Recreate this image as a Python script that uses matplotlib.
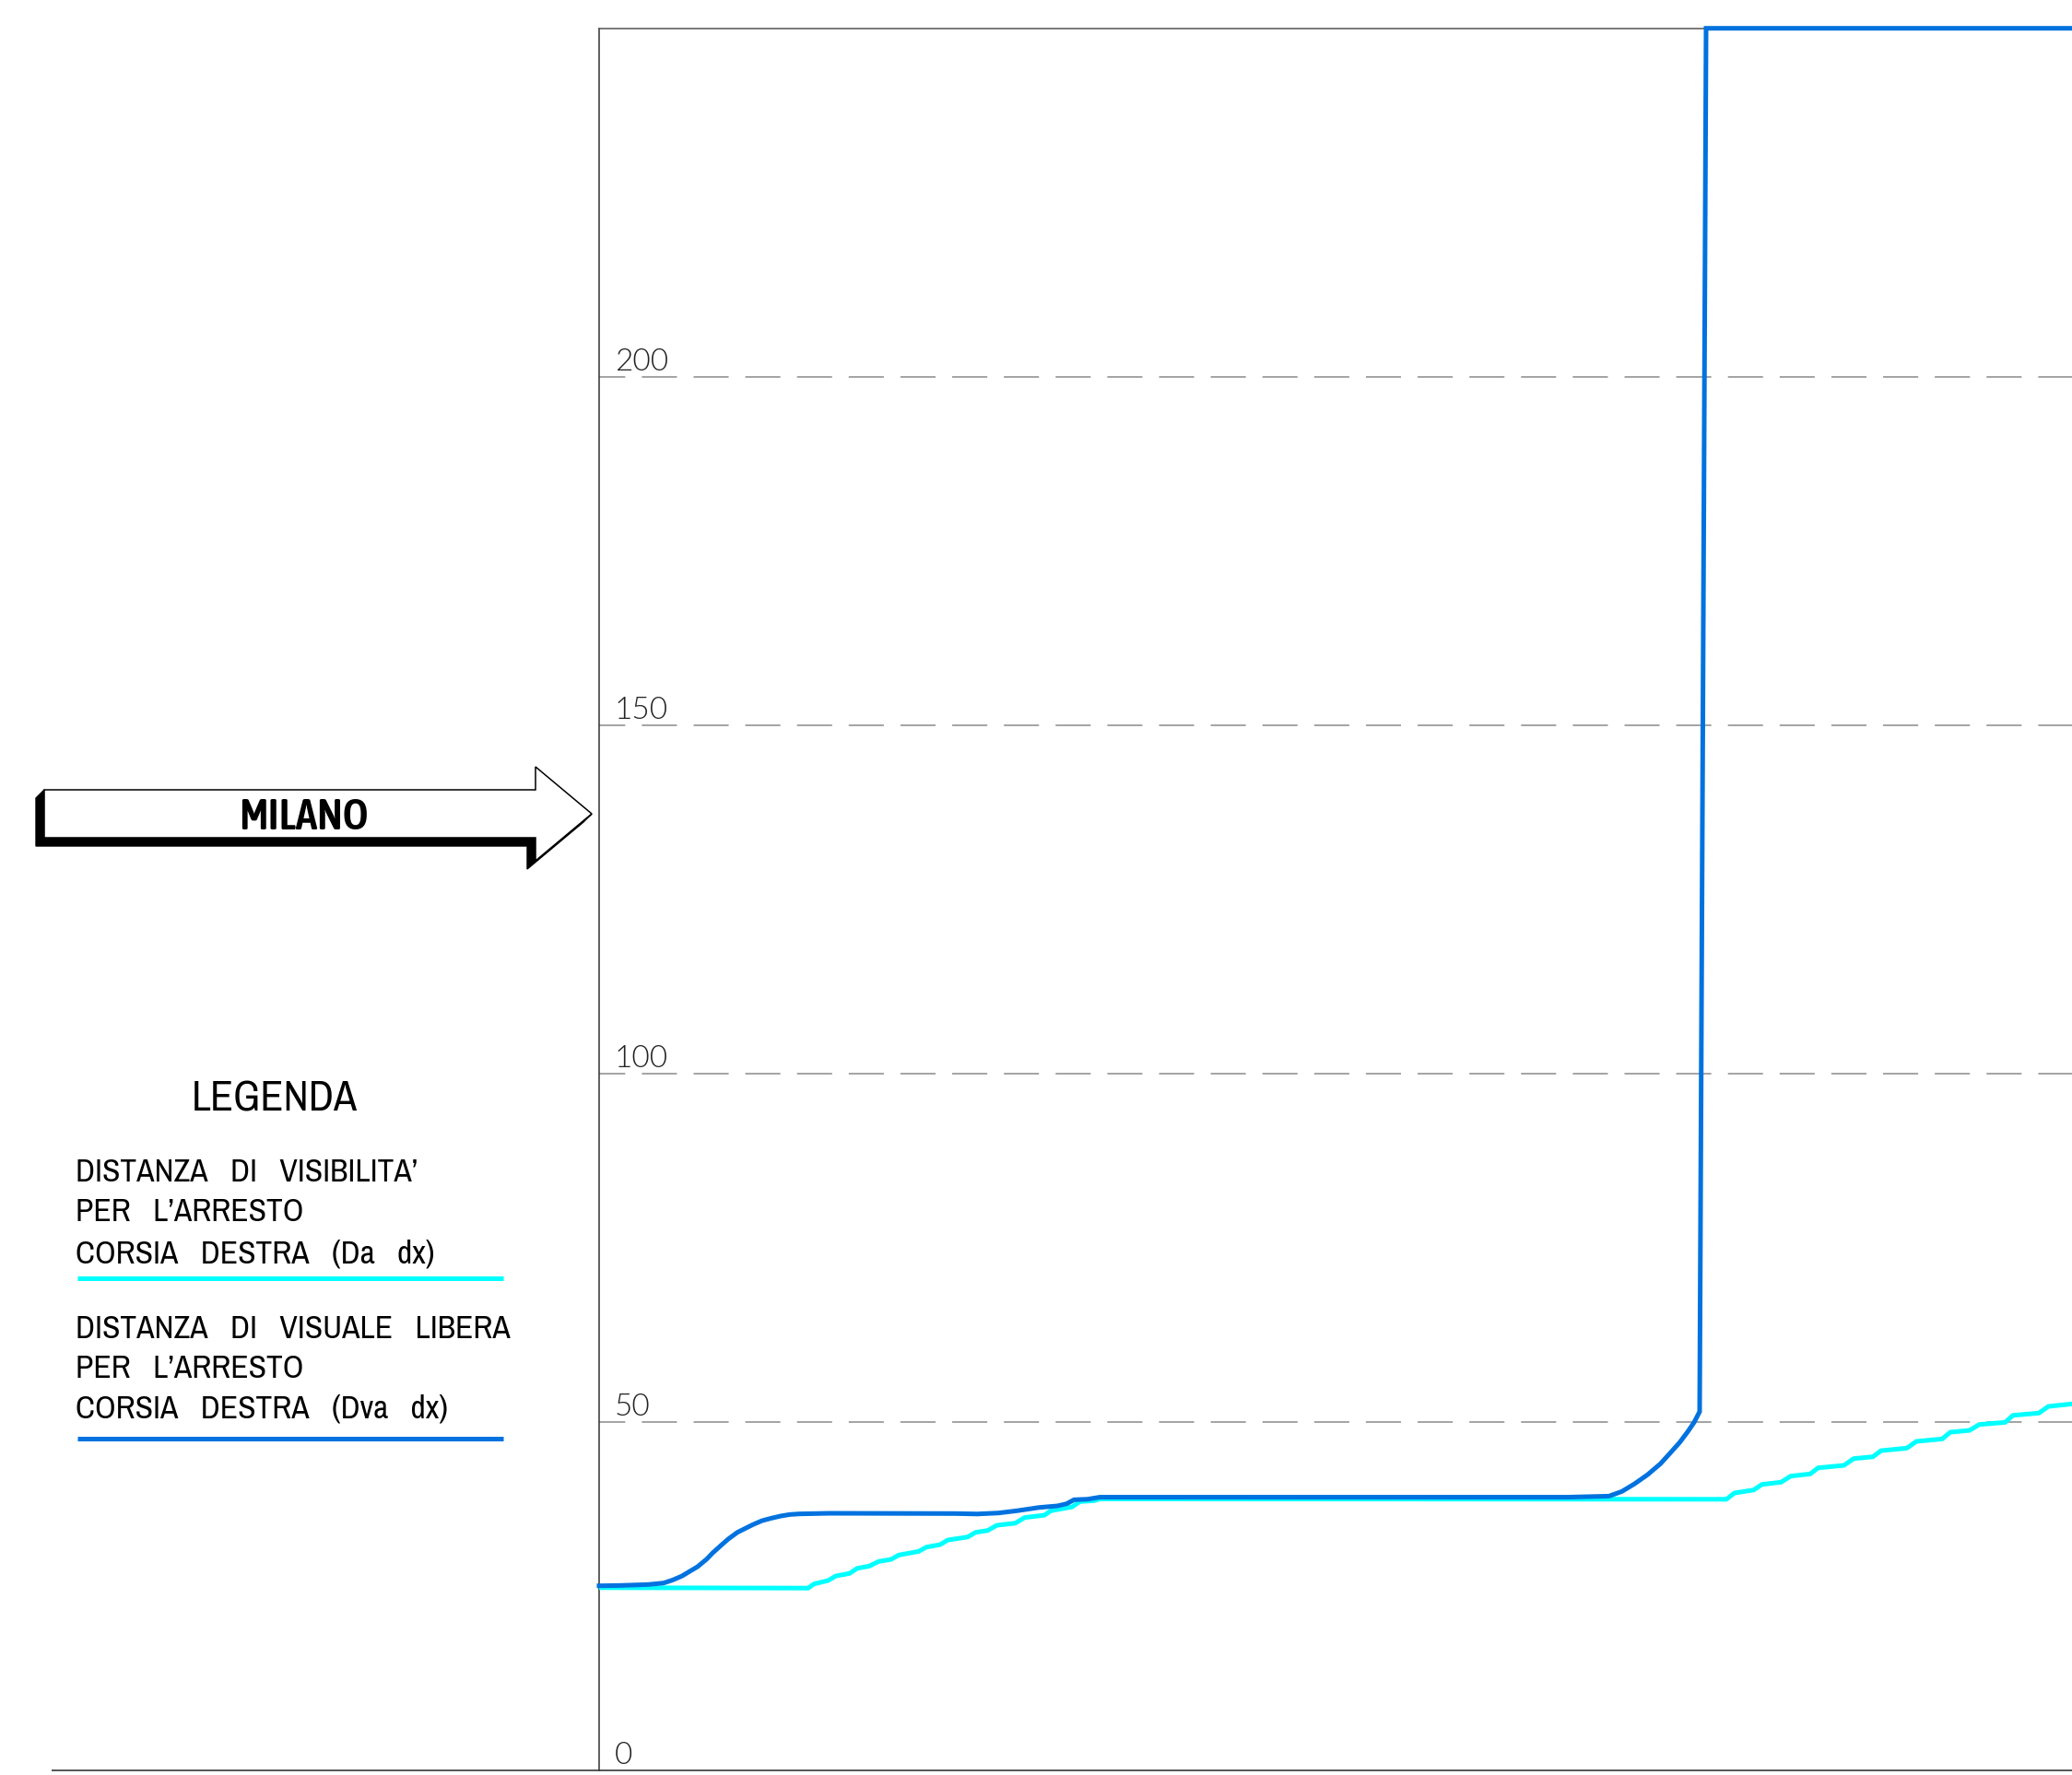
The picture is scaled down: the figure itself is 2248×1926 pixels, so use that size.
import matplotlib
matplotlib.use('Agg')
import matplotlib.pyplot as plt
from matplotlib.patches import Polygon

plt.rcParams['lines.scale_dashes'] = False

# ---------------- data ----------------
# progressive (arbitrary distance units along the road)
DA_X = [0, 56.7, 58.3, 62.1, 64.2, 67.9, 70.0, 73.3, 75.8, 79.2, 81.25, 86.7, 88.75,
        92.5, 94.6, 100.0, 102.1, 105.4, 107.9, 112.9, 115.4, 120.8, 122.5, 128.3,
        130.4, 134.2, 135.8, 150.0, 305.75, 307.95, 313.2, 315.4, 320.6, 323.2,
        328.5, 330.65, 337.65, 340.3, 345.5, 347.7, 354.7, 357.3, 364.3, 366.5,
        371.7, 374.35, 381.35, 383.5, 390.5, 393.1, 399.5]
DA_Y = [26.16, 26.1, 26.7, 27.18, 27.84, 28.2, 28.94, 29.26, 29.92, 30.22, 30.84,
        31.37, 31.98, 32.34, 33.0, 33.44, 34.1, 34.37, 35.12, 35.42, 36.22, 36.57,
        37.2, 37.76, 38.52, 38.65, 38.9, 38.9, 38.85, 39.75, 40.19, 40.98, 41.30,
        42.17, 42.49, 43.36, 43.72, 44.69, 44.95, 45.83, 46.19, 47.16, 47.51, 48.48,
        48.74, 49.58, 49.89, 50.90, 51.22, 52.18, 52.54]

DVA_X = [0, 5.83, 13.3, 17.5, 20.0, 22.5, 25.0, 26.7, 29.2, 30.8, 33.3, 35.0, 37.5,
         39.2, 41.7, 44.2, 46.7, 49.2, 51.7, 54.2, 62.5, 96.7, 102.5, 108.3, 113.3,
         119.3, 124.3, 126.8, 128.8, 132.5, 135.8, 150.0, 262.5, 273.9, 277.4,
         280.85, 284.4, 287.85, 290.5, 293.1, 295.3, 297.0, 298.5, 300.25, 399.5]
DVA_Y = [26.43, 26.48, 26.61, 26.83, 27.27, 27.84, 28.64, 29.17, 30.27, 31.15, 32.34,
         33.13, 34.1, 34.55, 35.21, 35.78, 36.13, 36.44, 36.66, 36.75, 36.84, 36.8,
         36.74, 36.88, 37.2, 37.67, 37.9, 38.2, 38.78, 38.86, 39.15, 39.15, 39.15,
         39.3, 39.97, 41.07, 42.39, 43.94, 45.48, 47.02, 48.57, 49.89, 51.43, 250.0,
         250.0]

Y_TICKS = [0, 50, 100, 150, 200]
GRID_Y = [50, 100, 150, 200]

LEGEND_TITLE = "LEGENDA"
LEGEND_DA = ["DISTANZA   DI   VISIBILITA’", "PER   L’ARRESTO", "CORSIA   DESTRA   (Da   dx)"]
LEGEND_DVA = ["DISTANZA   DI   VISUALE   LIBERA", "PER   L’ARRESTO", "CORSIA   DESTRA   (Dva   dx)"]
DIRECTION = "MILANO"

C_DA = '#00FFFF'
C_DVA = '#0072DF'

NARROW = ['Archivo Narrow', 'DejaVu Sans']
BOLDNARROW = ['Asap Condensed', 'DejaVu Sans']
THIN = ['Lato', 'DejaVu Sans']

# ---------------- figure ----------------
W, H = 2248, 1926
fig = plt.figure(figsize=(W / 100, H / 100), dpi=100)
fig.patch.set_facecolor('white')

AX_L, AX_R, AX_T, AX_B = 650, 2248, 30.7, 1920.5
ax = fig.add_axes([AX_L / W, (H - AX_B) / H, (AX_R - AX_L) / W, (AX_B - AX_T) / H])
ax.patch.set_visible(False)
ax.set_xlim(0, 399.5)
ax.set_ylim(0, 250)
ax.set_xticks([])
ax.set_yticks([])
for s in ['right', 'bottom']:
    ax.spines[s].set_visible(False)
ax.spines['left'].set_color('#333333')
ax.spines['left'].set_linewidth(1.1)
ax.spines['top'].set_color('#555555')
ax.spines['top'].set_linewidth(1.1)

for g in GRID_Y:
    ax.axhline(g, color='#8a8a8a', lw=1.1, linestyle=(7.0, (27.4, 13.0)), zorder=1)

for t in Y_TICKS:
    ax.text(4.25, t + 0.9, str(t), family=THIN, fontweight=300, fontsize=24,
            color='#222222', ha='left', va='baseline', zorder=2)

ax.plot(DA_X, DA_Y, color=C_DA, lw=3.6, zorder=3, solid_joinstyle='miter')
ax.plot(DVA_X, DVA_Y, color=C_DVA, lw=3.6, zorder=4, clip_on=False,
        solid_joinstyle='miter')

# ---------------- overlay in pixel coordinates ----------------
ov = fig.add_axes([0, 0, 1, 1], zorder=-1)
ov.set_xlim(0, W)
ov.set_ylim(H, 0)
ov.axis('off')

ov.plot([56, W], [1921, 1921], color='#555555', lw=1.4, solid_capstyle='butt')

arrow = [(48, 857), (581, 857), (581, 832), (642, 883), (581, 934), (581, 909), (48, 909)]
shadow = [(48, 857), (39, 866), (39, 918), (572, 918), (572, 943), (633, 892),
          (642, 883), (581, 934), (581, 909), (48, 909)]
ov.add_patch(Polygon(shadow, closed=True, facecolor='black', edgecolor='black', lw=1.0))
ov.add_patch(Polygon(arrow, closed=True, facecolor='white', edgecolor='black', lw=1.1))
ov.text(329, 900, DIRECTION, family=BOLDNARROW, fontweight=600, fontsize=34,
        ha='center', va='baseline', color='black')

ov.text(298, 1205, LEGEND_TITLE, family=NARROW, fontsize=33, ha='center',
        va='baseline', color='black')
for txt, yb in zip(LEGEND_DA, [1282, 1325, 1370]):
    ov.text(82, yb, txt, family=NARROW, fontsize=25.5, ha='left', va='baseline', color='black')
ov.plot([84, 546], [1387, 1387], color=C_DA, lw=3.6, solid_capstyle='butt')
for txt, yb in zip(LEGEND_DVA, [1452, 1495, 1538]):
    ov.text(82, yb, txt, family=NARROW, fontsize=25.5, ha='left', va='baseline', color='black')
ov.plot([84, 546], [1561, 1561], color=C_DVA, lw=3.6, solid_capstyle='butt')

fig.savefig('out.png', dpi=100, facecolor='white')
